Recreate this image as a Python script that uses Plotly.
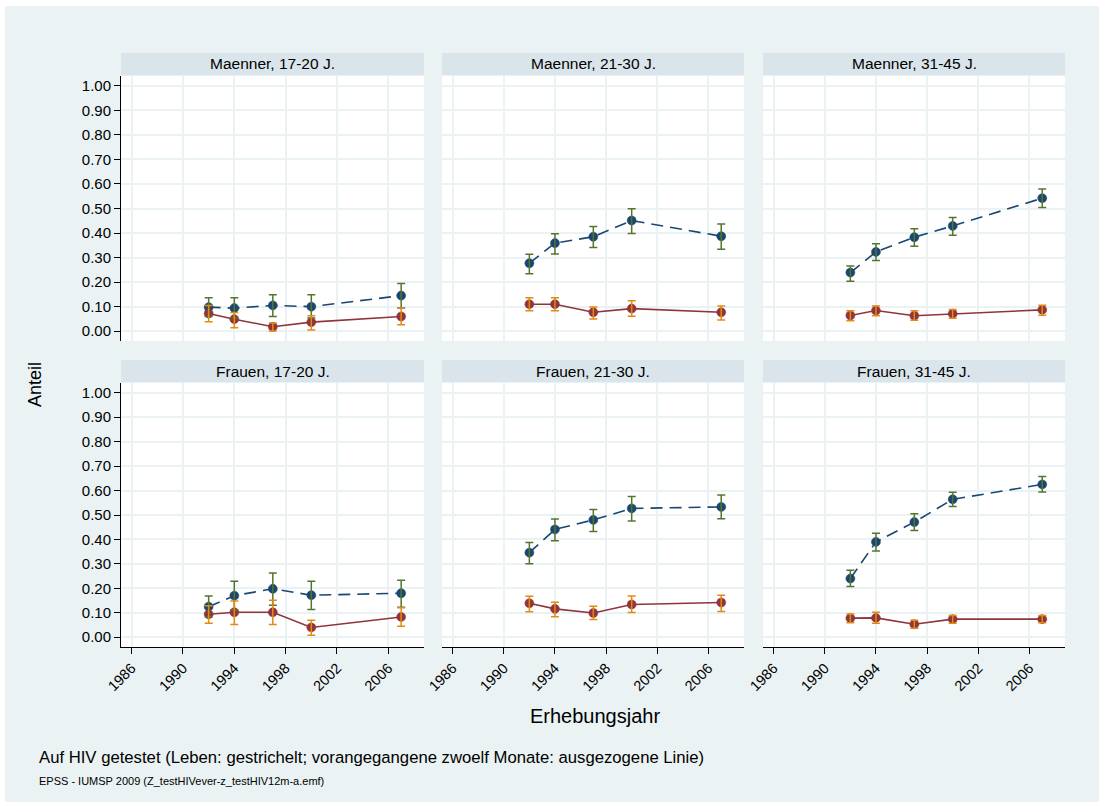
import plotly.graph_objects as go

# Survey years
years = [1992, 1994, 1997, 2000, 2007]

# Panel labels (row-major: men top row, women bottom row)
panels = [
    "Maenner, 17-20 J.", "Maenner, 21-30 J.", "Maenner, 31-45 J.",
    "Frauen, 17-20 J.", "Frauen, 21-30 J.", "Frauen, 31-45 J.",
]

# Ever tested for HIV: estimate and confidence limits
ever_est = {
    "Maenner, 17-20 J.": [0.098, 0.094, 0.105, 0.100, 0.145],
    "Maenner, 21-30 J.": [0.277, 0.359, 0.385, 0.451, 0.387],
    "Maenner, 31-45 J.": [0.239, 0.323, 0.383, 0.429, 0.542],
    "Frauen, 17-20 J.":  [0.125, 0.170, 0.198, 0.172, 0.180],
    "Frauen, 21-30 J.":  [0.346, 0.441, 0.480, 0.527, 0.533],
    "Frauen, 31-45 J.":  [0.240, 0.390, 0.471, 0.564, 0.625],
}
ever_lo = {
    "Maenner, 17-20 J.": [0.060, 0.055, 0.060, 0.054, 0.095],
    "Maenner, 21-30 J.": [0.234, 0.315, 0.341, 0.398, 0.334],
    "Maenner, 31-45 J.": [0.204, 0.288, 0.346, 0.391, 0.504],
    "Frauen, 17-20 J.":  [0.083, 0.112, 0.131, 0.113, 0.123],
    "Frauen, 21-30 J.":  [0.301, 0.395, 0.433, 0.475, 0.485],
    "Frauen, 31-45 J.":  [0.207, 0.353, 0.437, 0.535, 0.594],
}
ever_hi = {
    "Maenner, 17-20 J.": [0.136, 0.136, 0.148, 0.148, 0.194],
    "Maenner, 21-30 J.": [0.314, 0.397, 0.427, 0.499, 0.437],
    "Maenner, 31-45 J.": [0.266, 0.356, 0.417, 0.463, 0.579],
    "Frauen, 17-20 J.":  [0.169, 0.229, 0.263, 0.229, 0.233],
    "Frauen, 21-30 J.":  [0.388, 0.484, 0.523, 0.576, 0.582],
    "Frauen, 31-45 J.":  [0.274, 0.425, 0.505, 0.593, 0.657],
}

# Tested in the previous twelve months: estimate and confidence limits
m12_est = {
    "Maenner, 17-20 J.": [0.072, 0.049, 0.018, 0.037, 0.060],
    "Maenner, 21-30 J.": [0.110, 0.110, 0.077, 0.092, 0.077],
    "Maenner, 31-45 J.": [0.064, 0.084, 0.063, 0.071, 0.087],
    "Frauen, 17-20 J.":  [0.094, 0.102, 0.102, 0.040, 0.083],
    "Frauen, 21-30 J.":  [0.139, 0.116, 0.099, 0.134, 0.142],
    "Frauen, 31-45 J.":  [0.078, 0.079, 0.053, 0.074, 0.074],
}
m12_lo = {
    "Maenner, 17-20 J.": [0.038, 0.014, 0.001, 0.005, 0.026],
    "Maenner, 21-30 J.": [0.083, 0.083, 0.050, 0.061, 0.046],
    "Maenner, 31-45 J.": [0.043, 0.063, 0.045, 0.053, 0.065],
    "Frauen, 17-20 J.":  [0.057, 0.052, 0.052, 0.008, 0.045],
    "Frauen, 21-30 J.":  [0.104, 0.084, 0.072, 0.101, 0.105],
    "Frauen, 31-45 J.":  [0.059, 0.057, 0.037, 0.057, 0.059],
}
m12_hi = {
    "Maenner, 17-20 J.": [0.105, 0.076, 0.033, 0.063, 0.094],
    "Maenner, 21-30 J.": [0.136, 0.136, 0.099, 0.124, 0.103],
    "Maenner, 31-45 J.": [0.083, 0.103, 0.083, 0.088, 0.106],
    "Frauen, 17-20 J.":  [0.129, 0.148, 0.151, 0.069, 0.121],
    "Frauen, 21-30 J.":  [0.168, 0.143, 0.127, 0.169, 0.172],
    "Frauen, 31-45 J.":  [0.095, 0.102, 0.069, 0.089, 0.089],
}

y_ticks = [round(0.1 * i, 1) for i in range(11)]
y_ticktext = [f"{v:.2f}" for v in y_ticks]
x_ticks = [1986, 1990, 1994, 1998, 2002, 2006]

# Styling
W, H = 1104, 806
FONT = "Arial, Liberation Sans, sans-serif"
BG = "#eaf2f3"
STRIP = "#d9e5ea"
GRID = "#eaf2f3"
NAVY = "#1a476f"
MAROON = "#90353b"
GREEN = "#55752f"
ORANGE = "#e38a10"

col_px = [(121, 424), (442, 744), (763, 1065)]
row_px = [(76, 341), (383, 647)]
strip_px = [(53, 75), (360, 382)]


def px_x(x):
    return x / W


def px_y(y):
    return 1 - y / H


fig = go.Figure()
layout = {}
shapes = []
annotations = []

for i, name in enumerate(panels):
    r, c = divmod(i, 3)
    n = i + 1
    xa = "x" if n == 1 else f"x{n}"
    ya = "y" if n == 1 else f"y{n}"
    xkey = "xaxis" if n == 1 else f"xaxis{n}"
    ykey = "yaxis" if n == 1 else f"yaxis{n}"

    x0, x1 = col_px[c]
    yt, yb = row_px[r]

    layout[xkey] = dict(
        domain=[px_x(x0), px_x(x1)], anchor=ya, range=[1985.17, 2008.78],
        tickvals=x_ticks, ticktext=[str(v) for v in x_ticks],
        showgrid=True, gridcolor=GRID, gridwidth=1.5, zeroline=False,
        showline=(r == 1), linecolor="#000000", linewidth=1,
        ticks="outside" if r == 1 else "", ticklen=6, tickcolor="#000000",
        showticklabels=(r == 1), tickangle=-45, automargin=False,
        tickfont=dict(family=FONT, size=14.5, color="#000000"),
        fixedrange=True,
    )
    layout[ykey] = dict(
        domain=[px_y(yb), px_y(yt)], anchor=xa, range=[-0.04, 1.04],
        tickvals=y_ticks, ticktext=y_ticktext,
        showgrid=True, gridcolor=GRID, gridwidth=1.5, zeroline=False,
        showline=(c == 0), linecolor="#000000", linewidth=1,
        ticks="outside" if c == 0 else "", ticklen=6, tickcolor="#000000",
        showticklabels=(c == 0), automargin=False,
        tickfont=dict(family=FONT, size=15, color="#000000"),
        fixedrange=True,
    )

    # Ever tested: dashed connected line
    fig.add_trace(go.Scatter(
        x=years, y=ever_est[name], xaxis=xa, yaxis=ya, mode="lines+markers",
        line=dict(color=NAVY, width=1.6, dash="12px,7px"),
        marker=dict(symbol="circle", size=9, color=NAVY,
                    line=dict(color=NAVY, width=0.5)),
        showlegend=False, hoverinfo="skip",
    ))
    # Last twelve months: solid connected line
    fig.add_trace(go.Scatter(
        x=years, y=m12_est[name], xaxis=xa, yaxis=ya, mode="lines+markers",
        line=dict(color=MAROON, width=1.6),
        marker=dict(symbol="circle", size=9, color=MAROON,
                    line=dict(color=MAROON, width=0.5)),
        showlegend=False, hoverinfo="skip",
    ))
    # Confidence intervals drawn as capped bars over the markers
    for est, lo, hi, col in ((ever_est, ever_lo, ever_hi, GREEN),
                             (m12_est, m12_lo, m12_hi, ORANGE)):
        fig.add_trace(go.Scatter(
            x=years, y=est[name], xaxis=xa, yaxis=ya, mode="markers",
            marker=dict(size=1, color="rgba(0,0,0,0)"),
            error_y=dict(
                type="data", symmetric=False,
                array=[h - e for h, e in zip(hi[name], est[name])],
                arrayminus=[e - l for e, l in zip(est[name], lo[name])],
                color=col, thickness=1.5, width=4,
            ),
            showlegend=False, hoverinfo="skip",
        ))

    # Panel strip with its label
    st, sb = strip_px[r]
    shapes.append(dict(
        type="rect", xref="paper", yref="paper",
        x0=px_x(x0), x1=px_x(x1), y0=px_y(sb), y1=px_y(st),
        fillcolor=STRIP, line=dict(width=0), layer="below",
    ))
    annotations.append(dict(
        text=name, xref="paper", yref="paper",
        x=px_x((x0 + x1) / 2), y=px_y((st + sb) / 2),
        xanchor="center", yanchor="middle", showarrow=False,
        font=dict(family=FONT, size=15.5, color="#000000"),
    ))

    # White plotting area
    shapes.append(dict(
        type="rect", xref="paper", yref="paper",
        x0=px_x(x0), x1=px_x(x1), y0=px_y(yb), y1=px_y(yt),
        fillcolor="#ffffff", line=dict(width=0), layer="below",
    ))

# Graph region background with thin white outer border
shapes.insert(0, dict(
    type="rect", xref="paper", yref="paper",
    x0=px_x(5), x1=px_x(1099), y0=px_y(802), y1=px_y(6),
    fillcolor=BG, line=dict(width=0), layer="below",
))

annotations += [
    dict(text="Anteil", xref="paper", yref="paper", x=px_x(35), y=px_y(385),
         xanchor="center", yanchor="middle", textangle=-90, showarrow=False,
         font=dict(family=FONT, size=18, color="#000000")),
    dict(text="Erhebungsjahr", xref="paper", yref="paper", x=px_x(595), y=px_y(716),
         xanchor="center", yanchor="middle", showarrow=False,
         font=dict(family=FONT, size=20, color="#000000")),
    dict(text="Auf HIV getestet (Leben: gestrichelt; vorangegangene zwoelf Monate: ausgezogene Linie)",
         xref="paper", yref="paper", x=px_x(37), y=px_y(757),
         xanchor="left", yanchor="middle", showarrow=False,
         font=dict(family=FONT, size=16.7, color="#000000")),
    dict(text="EPSS - IUMSP 2009 (Z_testHIVever-z_testHIV12m-a.emf)",
         xref="paper", yref="paper", x=px_x(37), y=px_y(781),
         xanchor="left", yanchor="middle", showarrow=False,
         font=dict(family=FONT, size=11, color="#000000")),
]

fig.update_layout(
    width=W, height=H,
    margin=dict(l=0, r=0, t=0, b=0),
    paper_bgcolor="#ffffff", plot_bgcolor="rgba(0,0,0,0)",
    shapes=shapes, annotations=annotations,
    showlegend=False,
    **layout,
)

fig.write_html("out.html")
